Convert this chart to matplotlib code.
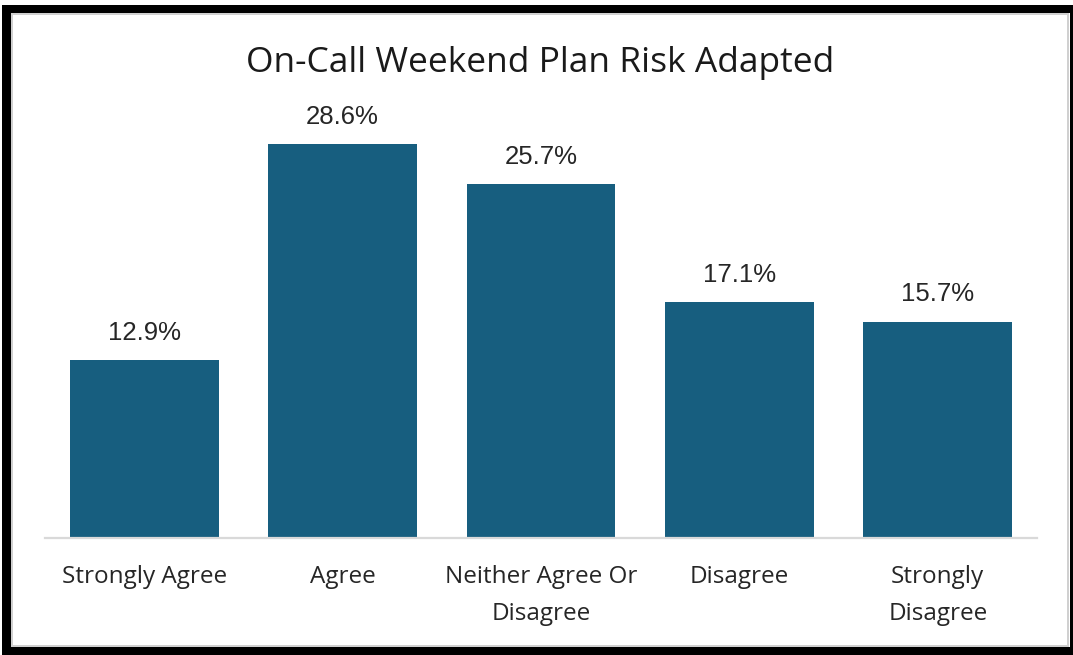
import matplotlib
matplotlib.use("Agg")
import matplotlib.pyplot as plt
from matplotlib.patches import Rectangle

categories = ["Strongly Agree", "Agree", "Neither Agree Or\nDisagree", "Disagree", "Strongly\nDisagree"]
values = [12.9, 28.6, 25.7, 17.1, 15.7]
title = "On-Call Weekend Plan Risk Adapted"

W, H = 1073, 655
fig = plt.figure(figsize=(W / 100, H / 100), dpi=100)
fig.patch.set_facecolor("white")

# frame (figure pixel coordinates)
def px_rect(x0, y0, x1, y1, color):
    fig.patches.append(Rectangle((x0 / W, 1 - y1 / H), (x1 - x0) / W, (y1 - y0) / H,
                                 transform=fig.transFigure, facecolor=color,
                                 edgecolor="none", zorder=10))

px_rect(2, 5, 1073, 13, "black")      # top
px_rect(2, 5, 11, 655, "black")       # left
px_rect(2, 647, 1073, 655, "black")   # bottom
px_rect(1070, 5, 1073, 655, "black")  # right
# thin inner grey line
px_rect(11, 13, 1068, 15, "#d0d0d0")
px_rect(11, 13, 13, 647, "#d0d0d0")
px_rect(1067, 13, 1069, 647, "#d0d0d0")
px_rect(11, 645, 1069, 647, "#d0d0d0")

y0_px = 537.5
scale = 13.75  # px per percent
ymax = 30
ax = fig.add_axes([45 / W, 1 - y0_px / H, (1037 - 45) / W, ymax * scale / H])
ax.set_xlim(-0.5, len(values) - 0.5)
ax.set_ylim(0, ymax)
ax.bar(range(len(values)), values, width=0.75, color="#175e7f", zorder=2)

for i, v in enumerate(values):
    ax.annotate(f"{v:.1f}%", (i, v), xytext=(0, 11), textcoords="offset points",
                ha="center", va="bottom", fontsize=18.5, color="#262626",
                family="Liberation Sans")

for s in ["top", "right", "left"]:
    ax.spines[s].set_visible(False)
ax.spines["bottom"].set_color("#d9d9d9")
ax.spines["bottom"].set_linewidth(1.6)
ax.set_yticks([])
ax.set_xticks(range(len(values)))
ax.set_xticklabels(categories, fontsize=17.5, color="#262626", family="Open Sans",
                   linespacing=1.7)
ax.tick_params(axis="x", length=0, pad=20)
ax.patch.set_alpha(0)

fig.text(540 / W, 1 - 63 / H, title, ha="center", va="center", fontsize=25.5,
         color="#1a1a1a", family="Open Sans")

fig.savefig("out.png", dpi=100, facecolor="white")
